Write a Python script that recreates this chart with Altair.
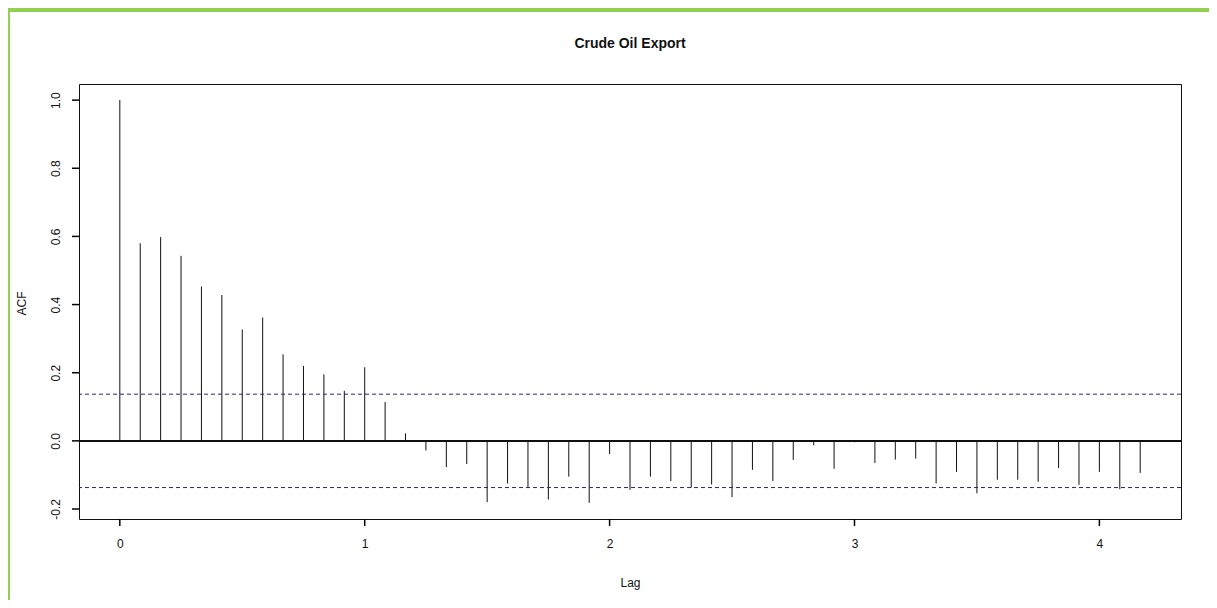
import altair as alt
import pandas as pd

# ACF of monthly series (frequency 12): lag k/12
lag_index = list(range(51))
acf_values = [
    1.000, 0.580, 0.598, 0.543, 0.453, 0.428, 0.327, 0.362, 0.254, 0.220,
    0.195, 0.147, 0.216, 0.114, 0.022, -0.028, -0.077, -0.068, -0.180, -0.125,
    -0.137, -0.172, -0.105, -0.182, -0.039, -0.144, -0.105, -0.118, -0.137, -0.128,
    -0.165, -0.085, -0.118, -0.056, -0.013, -0.082, -0.004, -0.065, -0.055, -0.052,
    -0.125, -0.091, -0.154, -0.114, -0.114, -0.120, -0.080, -0.129, -0.091, -0.142,
    -0.094,
]
ci_values = [0.137, -0.137]
x_ticks = [0, 1, 2, 3, 4]
y_ticks = [-0.2, 0.0, 0.2, 0.4, 0.6, 0.8, 1.0]

df = pd.DataFrame({"lag": [k / 12 for k in lag_index], "acf": acf_values})
ci_df = pd.DataFrame({"ci": ci_values})
xt_df = pd.DataFrame({"t": x_ticks})
yt_df = pd.DataFrame({"t": y_ticks})

FONT = "Liberation Sans"
W, H = 1102, 435
TICK = 7

x_scale = alt.Scale(domain=[-1 / 6, 4.3333], nice=False, zero=False)
y_scale = alt.Scale(domain=[-0.2293, 1.0473], nice=False, zero=False)

x_axis = alt.Axis(
    values=x_ticks, format="d", title="Lag", grid=False, domain=False,
    ticks=False, labelPadding=12 + TICK,
    labelFont=FONT, labelFontSize=12, labelColor="#111111",
    titleFont=FONT, titleFontSize=12, titleFontWeight="normal",
    titleColor="#111111", titleY=63, titleBaseline="middle",
)
y_axis = alt.Axis(
    values=y_ticks, title="ACF", grid=False, domain=False,
    ticks=False, labelPadding=10 + TICK,
    labelExpr="replace(format(datum.value, '.1f'), '\u2212', '-')",
    labelAngle=-90, labelAlign="center", labelBaseline="bottom",
    labelFont=FONT, labelFontSize=12, labelColor="#111111",
    labelOverlap=False, labelFlush=False,
    titleFont=FONT, titleFontSize=12, titleFontWeight="normal",
    titleColor="#111111", titleAngle=-90, titleAlign="center",
    titleBaseline="middle", titleX=-58, titleY=219,
)

spikes = alt.Chart(df).mark_rule(color="#111111", strokeWidth=1).encode(
    x=alt.X("lag:Q", scale=x_scale, axis=x_axis),
    y=alt.Y("acf:Q", scale=y_scale, axis=y_axis),
    y2=alt.datum(0),
)

zero_line = alt.Chart(df).mark_rule(color="#111111", strokeWidth=1).encode(
    y=alt.datum(0)
)

ci_lines = alt.Chart(ci_df).mark_rule(
    color="#26266e", strokeWidth=1, strokeDash=[4, 3]
).encode(y=alt.Y("ci:Q", scale=y_scale, axis=y_axis))

# axis tick marks, positioned by the scales from the tick value lists
x_tick_marks = alt.Chart(xt_df).mark_rule(
    color="#000000", strokeWidth=1.5, clip=False
).encode(
    x=alt.X("t:Q", scale=x_scale, axis=x_axis),
    y=alt.value(H),
    y2=alt.value(H + TICK),
)
y_tick_marks = alt.Chart(yt_df).mark_rule(
    color="#000000", strokeWidth=1.5, clip=False
).encode(
    y=alt.Y("t:Q", scale=y_scale, axis=y_axis),
    x=alt.value(-TICK),
    x2=alt.value(0),
)

frame_df = pd.DataFrame({"f": [0]})
frame_top = alt.Chart(frame_df).mark_rect(color="#92d050").encode(
    x=alt.value(-71), x2=alt.value(1130), y=alt.value(-76), y2=alt.value(-72)
)
frame_left = alt.Chart(frame_df).mark_rect(color="#92d050").encode(
    x=alt.value(-71), x2=alt.value(-69), y=alt.value(-76), y2=alt.value(H + 81)
)

chart = (
    alt.layer(spikes, ci_lines, zero_line, x_tick_marks, y_tick_marks,
              frame_top, frame_left)
    .properties(
        width=W,
        height=H,
        background="white",
        title=alt.TitleParams(
            "Crude Oil Export", font=FONT, fontSize=14, fontWeight="bold",
            color="#111111", anchor="middle", baseline="alphabetic", offset=-54,
        ),
        autosize=alt.AutoSizeParams(type="none"),
        padding={"left": 71, "top": 76, "right": 28, "bottom": 81},
    )
    .configure_view(stroke="#111111", strokeWidth=1)
)

chart.save("out.html", embed_options={"renderer": "svg", "actions": False})
